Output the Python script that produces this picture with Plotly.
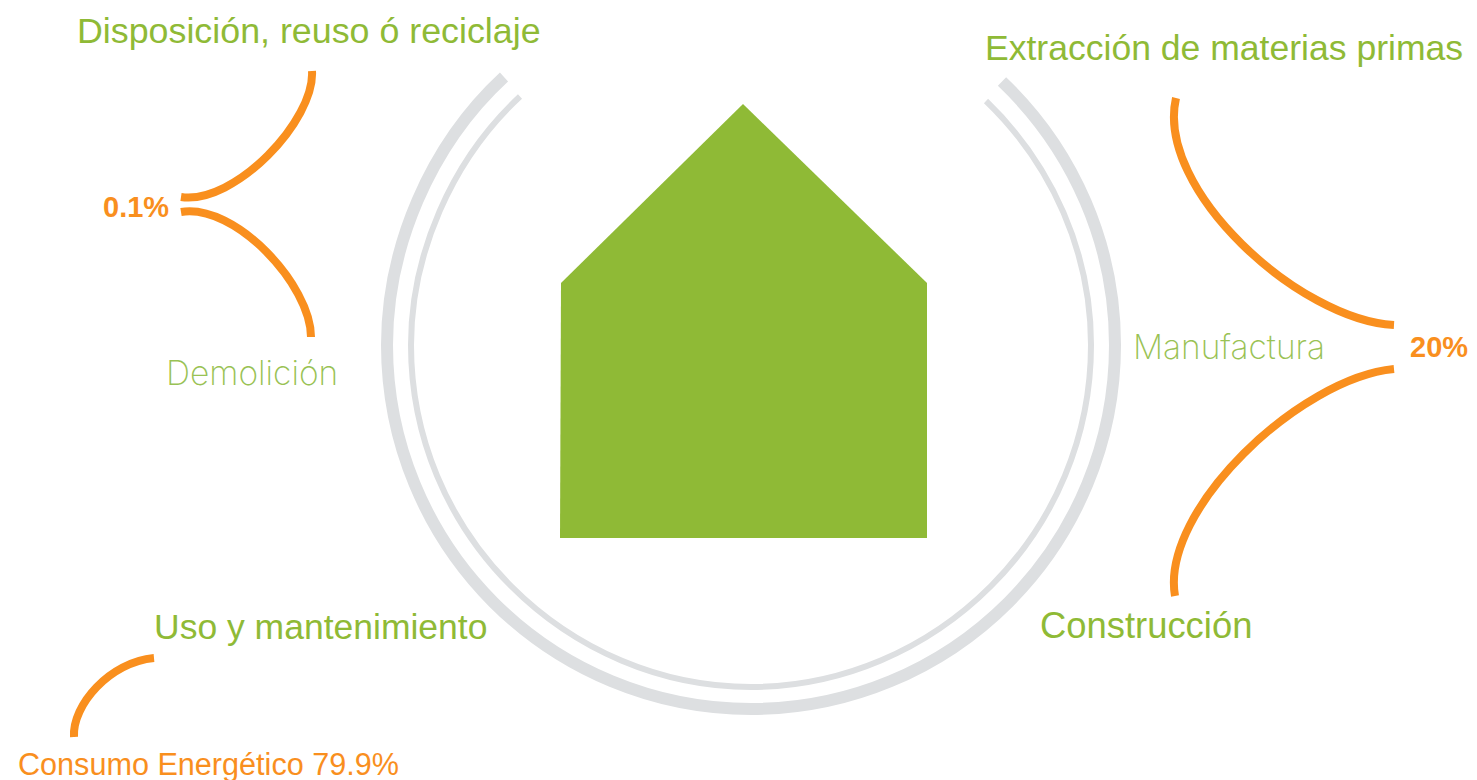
import plotly.graph_objects as go

GREEN = "#8FBA36"
GREEN_LIGHT = "#99C254"
ORANGE = "#F98F1E"
GREY = "#DDDFE1"

# Rings: anchor and Bezier control points (anchor, ctrl, ctrl, anchor, ...)
outer_x = [1002, 1074.1, 1115, 1115, 1115, 1076.6, 1008.4, 940.2, 847.5, 751, 654.5, 561.8, 493.6, 425.4, 387, 387, 387, 429.3, 504]
outer_y = [81.5, 150.2, 245.4, 345, 441.5, 534.2, 602.4, 670.6, 709, 709, 709, 670.6, 602.4, 534.2, 441.5, 345, 248.5, 145.9, 77]
inner_x = [986, 1052.4, 1091, 1091, 1091, 1055, 991, 927.1, 840.9, 751, 661.1, 574.9, 511, 447, 411, 411, 411, 451, 520]
inner_y = [101, 164.9, 252.8, 345, 436, 522, 586, 650, 687, 687, 687, 650, 586, 522, 436, 345, 255.1, 160.6, 96.5]

# House outline
house_x = [743, 927, 927, 560, 561, 743]
house_y = [104, 283, 538, 538, 283, 104]

# Orange connector curves (start, ctrl, ctrl, end)
curves = [
    ([312, 315, 235, 181], [71, 120, 205, 197]),
    ([311, 311, 235, 181], [337, 285, 203, 212]),
    ([1176, 1155, 1300, 1394], [98, 190, 320, 325]),
    ([1175, 1160, 1300, 1394], [596, 510, 378, 369]),
    ([154, 110, 72, 74], [658, 662, 705, 737]),
]

# Labels
reg_text = ["Disposición, reuso ó reciclaje", "Extracción de materias primas", "Uso y mantenimiento", "Construcción"]
reg_x = [77, 985, 154, 1040]
reg_y = [34, 51, 630, 629]
reg_size = [35.8, 35.55, 35.5, 36.4]
light_text = ["Demolición", "Manufactura"]
light_x = [166, 1133]
light_y = [377, 351]
pct_text = ["0.1%", "20%"]
pct_x = [103, 1410]
pct_y = [210, 350]
use_text = ["Consumo Energético 79.9%"]
use_x = [18]
use_y = [767]


def bezier_path(xs, ys):
    pts = [f"{x},{y}" for x, y in zip(xs, ys)]
    path = "M" + pts[0]
    for i in range(1, len(pts), 3):
        path += " C" + " ".join(pts[i:i + 3])
    return path


fig = go.Figure()
fig.add_shape(type="path", path=bezier_path(outer_x, outer_y), xref="x", yref="y", line=dict(color=GREY, width=12))
fig.add_shape(type="path", path=bezier_path(inner_x, inner_y), xref="x", yref="y", line=dict(color=GREY, width=6))
for cx, cy in curves:
    fig.add_shape(type="path", path=bezier_path(cx, cy), xref="x", yref="y", line=dict(color=ORANGE, width=8))

fig.add_trace(go.Scatter(x=house_x, y=house_y, mode="lines", fill="toself", fillcolor=GREEN, line=dict(color=GREEN, width=0)))


def labels(x, y, t, color, size, family, weight="normal"):
    fig.add_trace(go.Scatter(x=x, y=y, text=t, mode="text", textposition="middle right",
                             textfont=dict(color=color, size=size, family=family, weight=weight)))


labels(reg_x, reg_y, reg_text, GREEN, reg_size, "Liberation Sans")
labels(light_x, light_y, light_text, GREEN_LIGHT, 33.5, "Inter", 200)
labels(pct_x, pct_y, pct_text, ORANGE, 29, "Liberation Sans", "bold")
labels(use_x, use_y, use_text, ORANGE, 30.6, "Liberation Sans")

fig.update_layout(
    width=1477, height=780, margin=dict(l=0, r=0, t=0, b=0),
    paper_bgcolor="white", plot_bgcolor="white", showlegend=False, hovermode=False,
    xaxis=dict(range=[0, 1477], visible=False, fixedrange=True),
    yaxis=dict(range=[780, 0], visible=False, fixedrange=True),
)
fig.write_html("out.html", config={"displayModeBar": False},
               post_script="document.body.style.margin='0';document.body.style.overflow='hidden';")
